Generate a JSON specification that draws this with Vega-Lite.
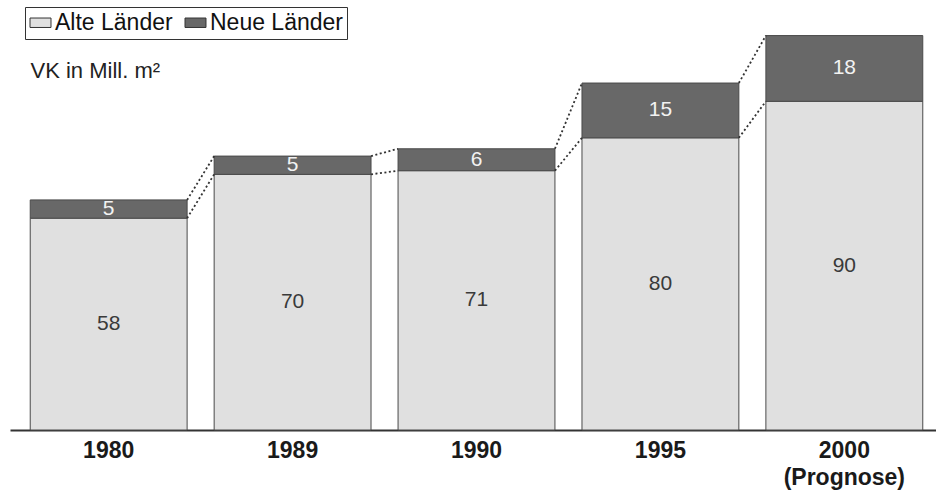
{
  "$schema": "https://vega.github.io/schema/vega-lite/v6.json",
  "width": 933,
  "height": 420,
  "autosize": {"type": "none"},
  "padding": {"left": 10, "top": 10, "right": 0, "bottom": 60},
  "background": "white",
  "config": {"view": {"stroke": null}, "font": "Liberation Sans"},
  "data": {
    "values": [
      {"year": "1980", "region": "Alte Länder", "value": 58},
      {"year": "1980", "region": "Neue Länder", "value": 5},
      {"year": "1989", "region": "Alte Länder", "value": 70},
      {"year": "1989", "region": "Neue Länder", "value": 5},
      {"year": "1990", "region": "Alte Länder", "value": 71},
      {"year": "1990", "region": "Neue Länder", "value": 6},
      {"year": "1995", "region": "Alte Länder", "value": 80},
      {"year": "1995", "region": "Neue Länder", "value": 15},
      {"year": "2000", "region": "Alte Länder", "value": 90},
      {"year": "2000", "region": "Neue Länder", "value": 18}
    ]
  },
  "transform": [
    {"stack": "value", "groupby": ["year"], "sort": [{"field": "region", "order": "ascending"}], "as": ["v0", "v1"]},
    {"calculate": "(datum.v0 + datum.v1) / 2", "as": "mid"}
  ],
  "encoding": {
    "x": {
      "field": "year",
      "type": "nominal",
      "scale": {"paddingInner": 0.147, "paddingOuter": 0.11},
      "axis": {
        "title": null,
        "domainColor": "#333333",
        "domainWidth": 2,
        "ticks": false,
        "labelFont": "Liberation Sans",
        "labelFontSize": 23,
        "labelFontWeight": "bold",
        "labelColor": "#1a1a1a",
        "labelPadding": 9,
        "labelAngle": 0,
        "labelLineHeight": 27,
        "labelExpr": "datum.value == '2000' ? ['2000', '(Prognose)'] : datum.value"
      }
    }
  },
  "layer": [
    {
      "mark": {"type": "bar", "stroke": "#4a4a4a", "strokeWidth": 1},
      "encoding": {
        "y": {
          "field": "v0",
          "type": "quantitative",
          "scale": {"domain": [0, 115], "nice": false},
          "axis": {"title": "VK in Mill. m²", "titleAngle": 0, "titleX": 20, "titleY": 60, "titleAlign": "left", "titleBaseline": "middle", "titleFontSize": 22, "titleFontWeight": "normal", "titleFont": "Liberation Sans", "titleColor": "#222222", "domain": false, "ticks": false, "labels": false, "grid": false}
        },
        "y2": {"field": "v1"},
        "color": {
          "field": "region",
          "type": "nominal",
          "scale": {"domain": ["Alte Länder", "Neue Länder"], "range": ["#e0e0e0", "#686868"]},
          "legend": {
            "title": null,
            "orient": "none",
            "legendX": 15,
            "legendY": -3,
            "direction": "horizontal",
            "strokeColor": "#333333",
            "fillColor": "white",
            "padding": 4,
            "labelFontSize": 23,
            "labelFont": "Liberation Sans",
            "labelColor": "#111111",
            "symbolType": "M-1,-0.45H1V0.45H-1Z",
            "symbolSize": 440,
            "symbolStrokeColor": "#333333",
            "symbolStrokeWidth": 1,
            "labelOffset": 3,
            "columnPadding": 10
          }
        }
      }
    },
    {
      "transform": [
        {"window": [{"op": "lead", "field": "year", "as": "nextYear"}, {"op": "lead", "field": "v1", "as": "nextV1"}], "groupby": ["region"], "sort": [{"field": "year"}]},
        {"filter": "datum.nextYear != null"}
      ],
      "mark": {"type": "rule", "strokeDash": [2, 2.5], "strokeWidth": 1.8, "color": "#333333"},
      "encoding": {
        "x": {"field": "year", "type": "nominal", "bandPosition": 1},
        "x2": {"field": "nextYear", "bandPosition": 0},
        "y": {
          "field": "v1",
          "type": "quantitative",
          "axis": {"title": "VK in Mill. m²", "titleAngle": 0, "titleX": 20, "titleY": 60, "titleAlign": "left", "titleBaseline": "middle", "titleFontSize": 22, "titleFontWeight": "normal", "titleFont": "Liberation Sans", "titleColor": "#222222", "domain": false, "ticks": false, "labels": false, "grid": false}
        },
        "y2": {"field": "nextV1"}
      }
    },
    {
      "mark": {"type": "text", "fontSize": 21, "font": "Liberation Sans"},
      "encoding": {
        "y": {
          "field": "mid",
          "type": "quantitative",
          "axis": {"title": "VK in Mill. m²", "titleAngle": 0, "titleX": 20, "titleY": 60, "titleAlign": "left", "titleBaseline": "middle", "titleFontSize": 22, "titleFontWeight": "normal", "titleFont": "Liberation Sans", "titleColor": "#222222", "domain": false, "ticks": false, "labels": false, "grid": false}
        },
        "text": {"field": "value", "type": "quantitative"},
        "color": {"condition": {"test": "datum.region === 'Neue Länder'", "value": "#f2f2f2"}, "value": "#3a3a3a"}
      }
    }
  ]
}
